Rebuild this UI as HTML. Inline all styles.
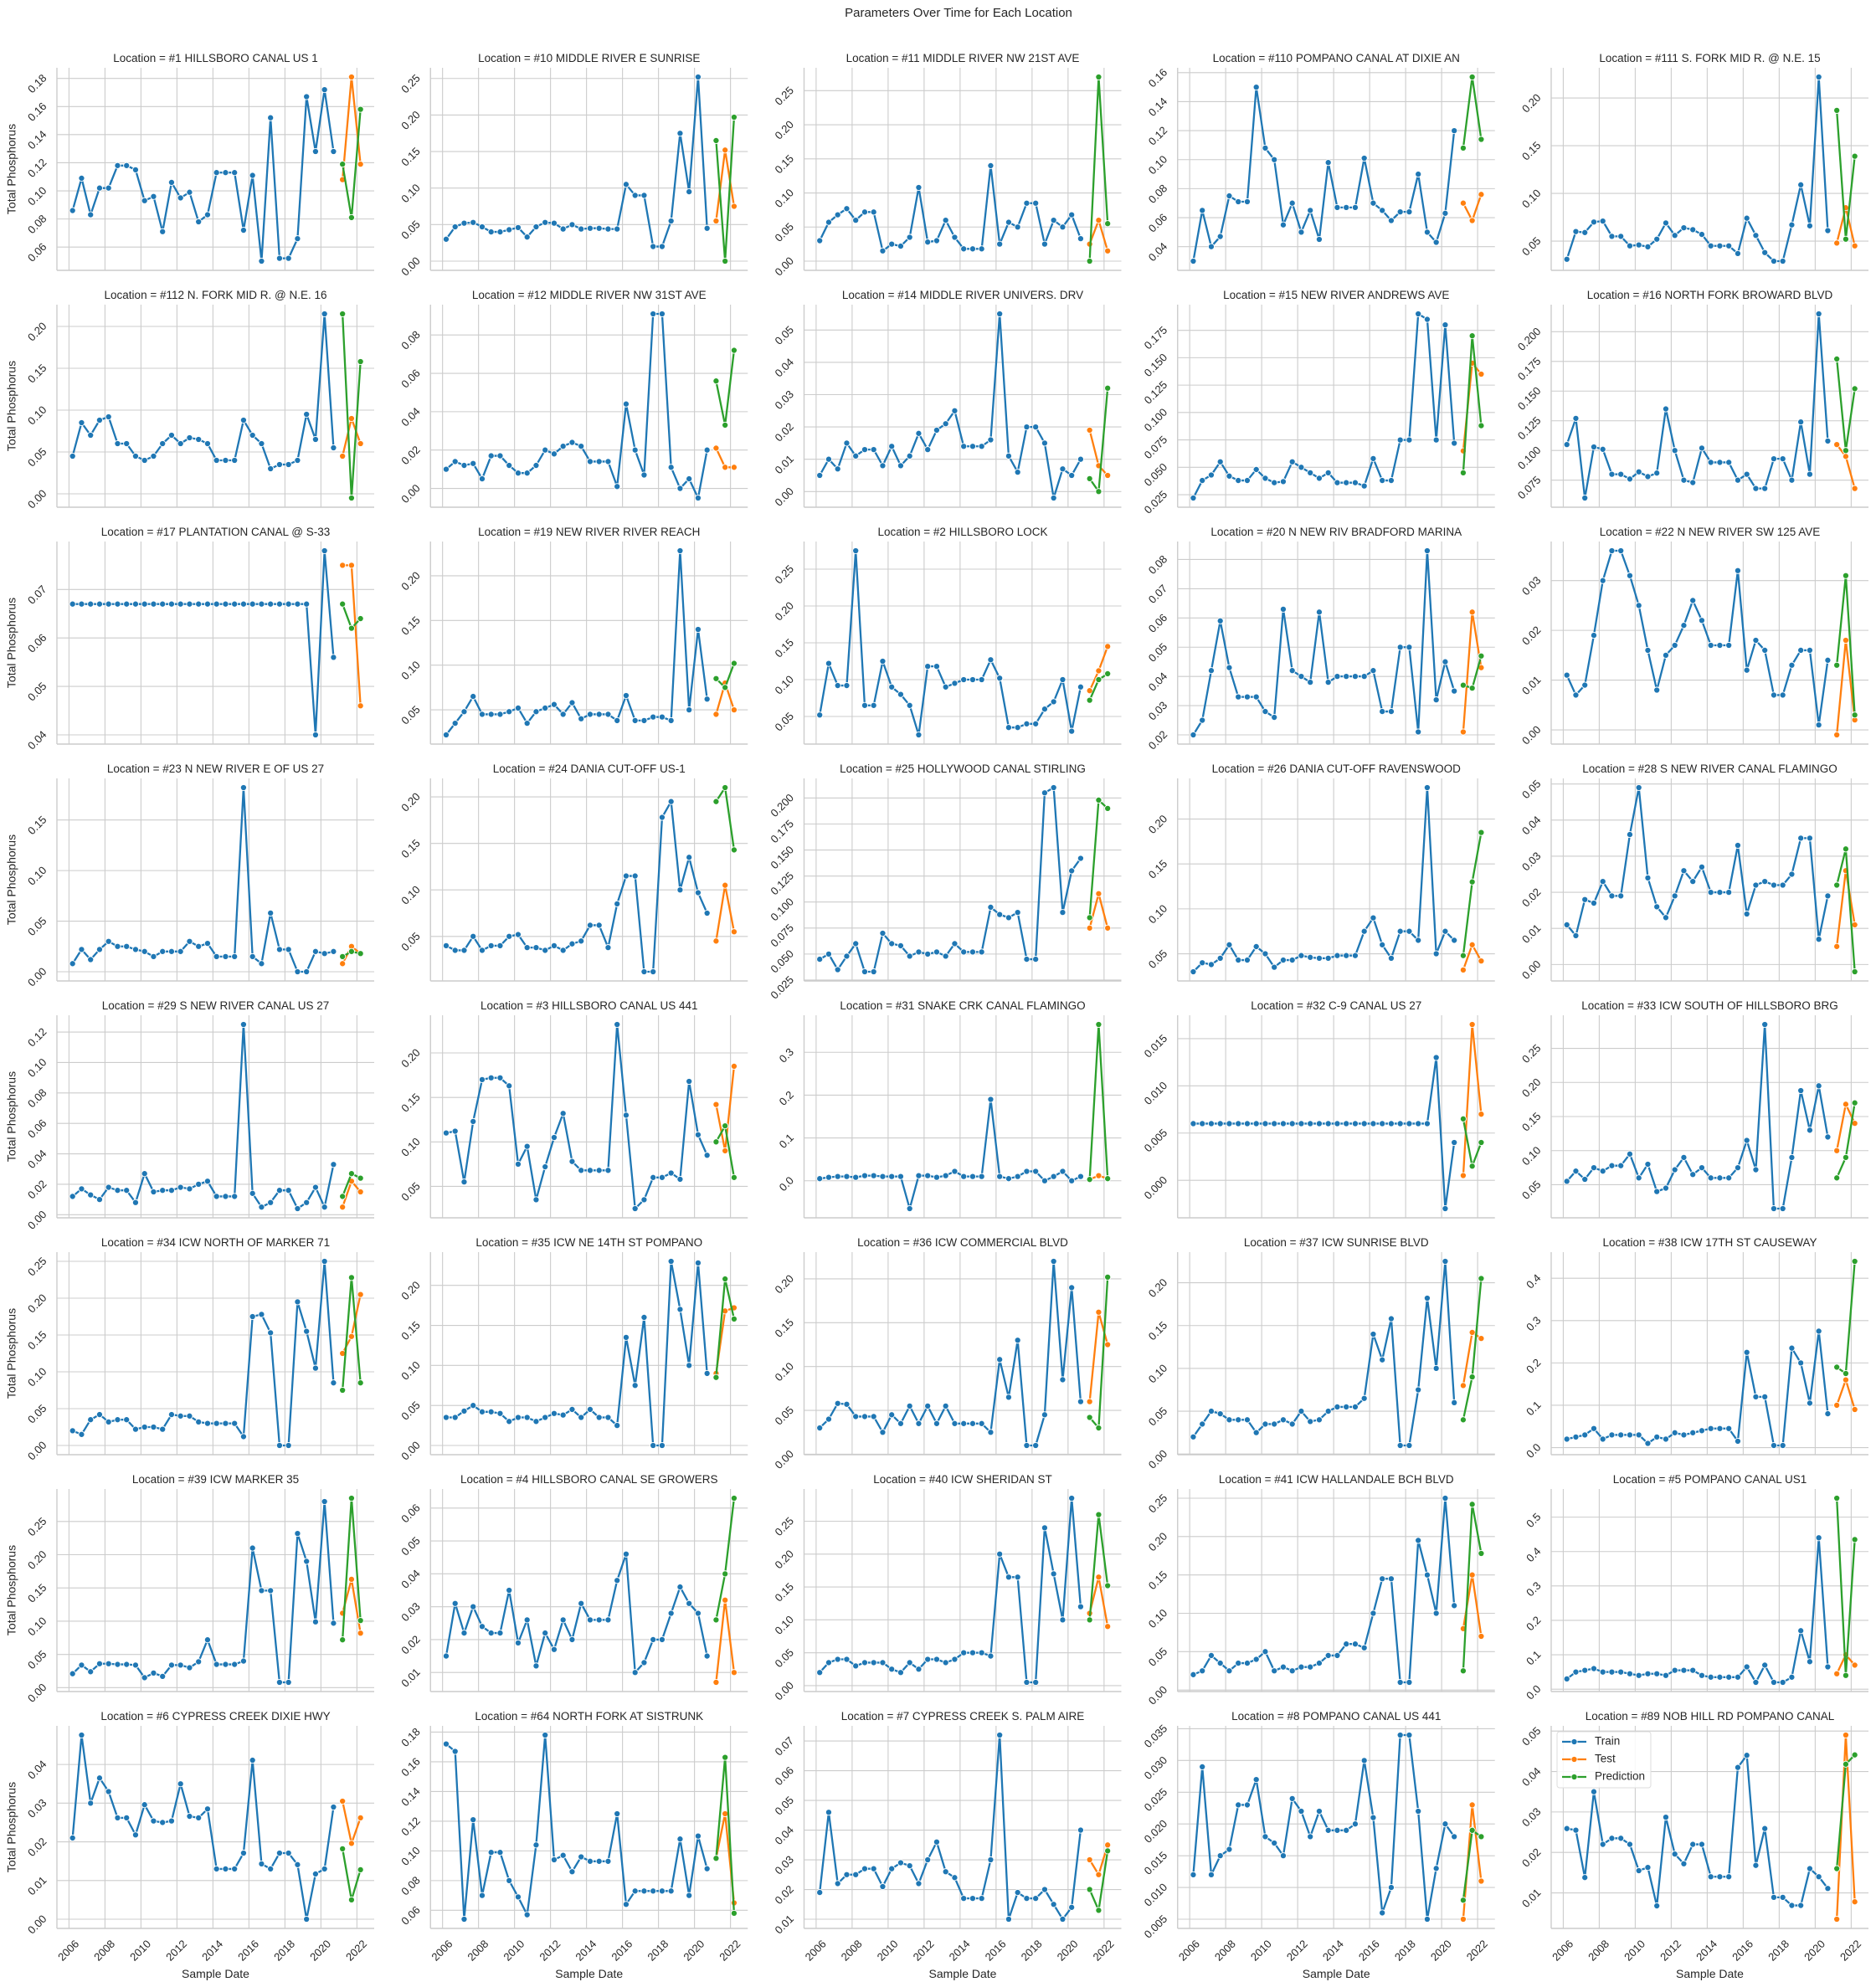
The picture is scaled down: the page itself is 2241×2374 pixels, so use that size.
<!DOCTYPE html>
<html><head><meta charset="utf-8"><title>Parameters Over Time for Each Location</title>
<style>
html,body{margin:0;padding:0;background:#fff;}
svg{display:block;font-family:"Liberation Sans",Arial,sans-serif;}
</style></head>
<body>
<svg id="chart" xmlns="http://www.w3.org/2000/svg" width="2241" height="2374" viewBox="0 0 2241 2374">
<rect x="0" y="0" width="2241" height="2374" fill="#ffffff"/>
<text x="1145" y="20" text-anchor="middle" font-size="15" fill="#262626">Parameters Over Time for Each Location</text>
</svg>
<script>
const locations = ["#1 HILLSBORO CANAL US 1","#10 MIDDLE RIVER E SUNRISE","#11 MIDDLE RIVER NW 21ST AVE","#110 POMPANO CANAL AT DIXIE AN","#111 S. FORK MID R. @ N.E. 15",
"#112 N. FORK MID R. @ N.E. 16","#12 MIDDLE RIVER NW 31ST AVE","#14 MIDDLE RIVER UNIVERS. DRV","#15 NEW RIVER ANDREWS AVE","#16 NORTH FORK BROWARD BLVD",
"#17 PLANTATION CANAL @ S-33","#19 NEW RIVER RIVER REACH","#2 HILLSBORO LOCK","#20 N NEW RIV BRADFORD MARINA","#22 N NEW RIVER SW 125 AVE",
"#23 N NEW RIVER E OF US 27","#24 DANIA CUT-OFF US-1","#25 HOLLYWOOD CANAL STIRLING","#26 DANIA CUT-OFF RAVENSWOOD","#28 S NEW RIVER CANAL FLAMINGO",
"#29 S NEW RIVER CANAL US 27","#3 HILLSBORO CANAL US 441","#31 SNAKE CRK CANAL FLAMINGO","#32 C-9 CANAL US 27","#33 ICW SOUTH OF HILLSBORO BRG",
"#34 ICW NORTH OF MARKER 71","#35 ICW NE 14TH ST POMPANO","#36 ICW COMMERCIAL BLVD","#37 ICW SUNRISE BLVD","#38 ICW 17TH ST CAUSEWAY",
"#39 ICW MARKER 35","#4 HILLSBORO CANAL SE GROWERS","#40 ICW SHERIDAN ST","#41 ICW HALLANDALE BCH BLVD","#5 POMPANO CANAL US1",
"#6 CYPRESS CREEK DIXIE HWY","#64 NORTH FORK AT SISTRUNK","#7 CYPRESS CREEK S. PALM AIRE","#8 POMPANO CANAL US 441","#89 NOB HILL RD POMPANO CANAL"];

const trainDates = [2006.2,2006.7,2007.2,2007.7,2008.2,2008.7,2009.2,2009.7,2010.2,2010.7,2011.2,2011.7,2012.2,2012.7,2013.2,2013.7,2014.2,2014.7,2015.2,2015.7,2016.2,2016.7,2017.2,2017.7,2018.2,2018.7,2019.2,2019.7,2020.2,2020.7];
const testDates = [2021.2,2021.7,2022.2];
const xTicks = [2006,2008,2010,2012,2014,2016,2018,2020,2022];
const seriesNames = ["Train","Test","Prediction"];

const trainSeries = [
[0.086,0.109,0.083,0.102,0.102,0.118,0.118,0.115,0.093,0.096,0.071,0.106,0.095,0.099,0.078,0.083,0.113,0.113,0.113,0.072,0.111,0.050,0.152,0.052,0.052,0.066,0.167,0.128,0.172,0.128],
[0.03,0.047,0.052,0.053,0.047,0.04,0.04,0.043,0.046,0.033,0.047,0.053,0.052,0.044,0.05,0.044,0.045,0.045,0.044,0.044,0.105,0.09,0.09,0.02,0.02,0.055,0.175,0.095,0.252,0.045],
[0.03,0.057,0.068,0.077,0.06,0.072,0.072,0.015,0.025,0.022,0.035,0.108,0.028,0.03,0.06,0.035,0.018,0.018,0.018,0.14,0.025,0.057,0.05,0.085,0.085,0.025,0.06,0.05,0.068,0.033],
[0.03,0.065,0.04,0.047,0.075,0.071,0.071,0.15,0.108,0.1,0.055,0.07,0.05,0.065,0.045,0.098,0.067,0.067,0.067,0.101,0.07,0.065,0.058,0.064,0.064,0.09,0.05,0.043,0.063,0.12],
[0.031,0.060,0.059,0.070,0.071,0.055,0.055,0.045,0.046,0.044,0.052,0.069,0.056,0.064,0.062,0.057,0.045,0.045,0.045,0.037,0.074,0.056,0.038,0.029,0.029,0.067,0.109,0.066,0.222,0.061],
[0.045,0.085,0.07,0.088,0.092,0.06,0.06,0.045,0.04,0.045,0.06,0.07,0.06,0.067,0.065,0.06,0.04,0.04,0.04,0.088,0.07,0.06,0.03,0.035,0.035,0.04,0.095,0.065,0.215,0.055],
[0.01,0.014,0.012,0.013,0.005,0.017,0.017,0.012,0.008,0.008,0.012,0.02,0.018,0.022,0.024,0.022,0.014,0.014,0.014,0.001,0.044,0.02,0.007,0.091,0.091,0.011,0.0,0.005,-0.005,0.02],
[0.005,0.01,0.007,0.015,0.011,0.013,0.013,0.008,0.014,0.008,0.011,0.018,0.013,0.019,0.021,0.025,0.014,0.014,0.014,0.016,0.055,0.011,0.006,0.02,0.02,0.015,-0.002,0.007,0.005,0.01],
[0.022,0.038,0.043,0.055,0.042,0.038,0.038,0.048,0.04,0.036,0.037,0.055,0.05,0.045,0.04,0.045,0.036,0.036,0.036,0.033,0.058,0.038,0.038,0.075,0.075,0.19,0.185,0.075,0.18,0.072],
[0.105,0.127,0.06,0.103,0.101,0.08,0.08,0.076,0.082,0.078,0.081,0.135,0.1,0.075,0.073,0.102,0.09,0.09,0.09,0.075,0.08,0.068,0.068,0.093,0.093,0.075,0.124,0.08,0.215,0.108],
[0.067,0.067,0.067,0.067,0.067,0.067,0.067,0.067,0.067,0.067,0.067,0.067,0.067,0.067,0.067,0.067,0.067,0.067,0.067,0.067,0.067,0.067,0.067,0.067,0.067,0.067,0.067,0.04,0.078,0.056],
[0.022,0.035,0.048,0.065,0.045,0.045,0.045,0.048,0.052,0.035,0.048,0.052,0.056,0.045,0.058,0.04,0.045,0.045,0.045,0.038,0.066,0.038,0.038,0.042,0.042,0.038,0.228,0.05,0.14,0.062],
[0.052,0.122,0.092,0.092,0.275,0.065,0.065,0.125,0.09,0.08,0.065,0.025,0.118,0.118,0.09,0.095,0.1,0.1,0.1,0.127,0.102,0.035,0.035,0.04,0.04,0.06,0.07,0.1,0.03,0.09],
[0.02,0.025,0.042,0.059,0.043,0.033,0.033,0.033,0.028,0.026,0.063,0.042,0.04,0.038,0.062,0.038,0.04,0.04,0.04,0.04,0.042,0.028,0.028,0.05,0.05,0.021,0.083,0.032,0.045,0.035],
[0.011,0.007,0.009,0.019,0.03,0.036,0.036,0.031,0.025,0.016,0.008,0.015,0.017,0.021,0.026,0.022,0.017,0.017,0.017,0.032,0.012,0.018,0.016,0.007,0.007,0.013,0.016,0.016,0.001,0.014],
[0.008,0.022,0.012,0.022,0.03,0.025,0.025,0.022,0.02,0.015,0.02,0.02,0.02,0.03,0.025,0.028,0.015,0.015,0.015,0.182,0.015,0.008,0.058,0.022,0.022,0.0,0.0,0.02,0.018,0.02],
[0.04,0.035,0.035,0.05,0.035,0.04,0.04,0.05,0.052,0.038,0.038,0.035,0.04,0.035,0.042,0.045,0.062,0.062,0.038,0.085,0.115,0.115,0.012,0.012,0.178,0.195,0.1,0.135,0.097,0.075],
[0.045,0.05,0.035,0.048,0.06,0.033,0.033,0.07,0.06,0.058,0.048,0.052,0.05,0.052,0.048,0.06,0.052,0.052,0.052,0.095,0.088,0.085,0.09,0.045,0.045,0.205,0.21,0.09,0.13,0.142],
[0.03,0.04,0.038,0.045,0.06,0.043,0.043,0.058,0.05,0.035,0.043,0.043,0.048,0.046,0.045,0.045,0.048,0.048,0.048,0.075,0.09,0.06,0.045,0.075,0.075,0.065,0.235,0.05,0.075,0.065],
[0.011,0.008,0.018,0.017,0.023,0.019,0.019,0.036,0.049,0.024,0.016,0.013,0.019,0.026,0.023,0.027,0.02,0.02,0.02,0.033,0.014,0.022,0.023,0.022,0.022,0.025,0.035,0.035,0.007,0.019],
[0.012,0.017,0.013,0.01,0.018,0.016,0.016,0.008,0.027,0.015,0.016,0.016,0.018,0.017,0.02,0.022,0.012,0.012,0.012,0.125,0.014,0.005,0.008,0.016,0.016,0.004,0.008,0.018,0.005,0.033],
[0.11,0.112,0.055,0.123,0.17,0.172,0.172,0.163,0.075,0.095,0.035,0.072,0.105,0.132,0.078,0.068,0.068,0.068,0.068,0.232,0.13,0.025,0.035,0.06,0.06,0.065,0.058,0.168,0.108,0.085],
[0.005,0.008,0.01,0.01,0.008,0.012,0.012,0.01,0.01,0.01,-0.065,0.012,0.012,0.008,0.012,0.022,0.01,0.01,0.01,0.19,0.01,0.005,0.01,0.022,0.022,0.0,0.01,0.022,0.0,0.01],
[0.006,0.006,0.006,0.006,0.006,0.006,0.006,0.006,0.006,0.006,0.006,0.006,0.006,0.006,0.006,0.006,0.006,0.006,0.006,0.006,0.006,0.006,0.006,0.006,0.006,0.006,0.006,0.013,-0.003,0.004],
[0.055,0.07,0.058,0.075,0.07,0.078,0.078,0.095,0.06,0.08,0.04,0.045,0.072,0.09,0.065,0.075,0.06,0.06,0.06,0.075,0.115,0.072,0.285,0.015,0.015,0.09,0.188,0.13,0.195,0.12],
[0.02,0.015,0.035,0.042,0.032,0.035,0.035,0.022,0.025,0.025,0.022,0.042,0.04,0.04,0.032,0.03,0.03,0.03,0.03,0.012,0.175,0.178,0.153,0.0,0.0,0.195,0.155,0.105,0.25,0.085],
[0.035,0.035,0.043,0.05,0.042,0.042,0.04,0.03,0.035,0.035,0.03,0.035,0.04,0.038,0.045,0.035,0.045,0.035,0.035,0.025,0.135,0.075,0.16,0.0,0.0,0.23,0.17,0.1,0.228,0.09],
[0.03,0.04,0.058,0.057,0.043,0.043,0.043,0.025,0.045,0.035,0.055,0.035,0.055,0.035,0.055,0.035,0.035,0.035,0.035,0.025,0.108,0.065,0.13,0.01,0.01,0.045,0.22,0.085,0.19,0.06],
[0.02,0.035,0.05,0.047,0.04,0.04,0.04,0.025,0.035,0.035,0.04,0.035,0.05,0.038,0.04,0.05,0.055,0.055,0.055,0.065,0.14,0.11,0.158,0.01,0.01,0.075,0.182,0.1,0.225,0.06],
[0.02,0.025,0.03,0.045,0.02,0.03,0.03,0.03,0.03,0.01,0.025,0.02,0.035,0.03,0.035,0.04,0.045,0.045,0.045,0.015,0.225,0.12,0.12,0.005,0.005,0.235,0.2,0.105,0.275,0.08],
[0.021,0.034,0.024,0.036,0.036,0.035,0.035,0.034,0.015,0.022,0.017,0.034,0.034,0.030,0.039,0.072,0.035,0.035,0.035,0.040,0.21,0.146,0.146,0.008,0.008,0.232,0.19,0.099,0.28,0.097],
[0.015,0.031,0.022,0.03,0.024,0.022,0.022,0.035,0.019,0.026,0.012,0.022,0.017,0.026,0.02,0.031,0.026,0.026,0.026,0.038,0.046,0.01,0.013,0.02,0.02,0.028,0.036,0.031,0.028,0.015],
[0.02,0.035,0.04,0.04,0.03,0.035,0.035,0.035,0.025,0.02,0.035,0.025,0.04,0.04,0.035,0.04,0.05,0.05,0.05,0.045,0.2,0.165,0.165,0.005,0.005,0.24,0.17,0.1,0.285,0.12],
[0.02,0.025,0.045,0.035,0.025,0.035,0.035,0.04,0.05,0.025,0.03,0.025,0.03,0.03,0.035,0.045,0.045,0.06,0.06,0.055,0.1,0.145,0.145,0.01,0.01,0.195,0.15,0.1,0.25,0.11],
[0.03,0.05,0.055,0.06,0.05,0.05,0.05,0.045,0.04,0.045,0.045,0.04,0.055,0.055,0.055,0.04,0.035,0.035,0.035,0.035,0.065,0.02,0.07,0.02,0.02,0.035,0.17,0.08,0.44,0.065],
[0.0210,0.0476,0.0300,0.0365,0.0330,0.0262,0.0262,0.0218,0.0296,0.0254,0.0250,0.0254,0.0350,0.0266,0.0262,0.0285,0.0130,0.0130,0.0130,0.0171,0.0411,0.0143,0.0130,0.0171,0.0171,0.0141,0.0000,0.0117,0.0130,0.0290],
[0.172,0.167,0.054,0.121,0.07,0.099,0.099,0.08,0.069,0.057,0.104,0.178,0.094,0.097,0.086,0.096,0.093,0.093,0.093,0.125,0.064,0.073,0.073,0.073,0.073,0.073,0.108,0.07,0.11,0.088],
[0.019,0.046,0.022,0.025,0.025,0.027,0.027,0.021,0.027,0.029,0.028,0.022,0.03,0.036,0.026,0.024,0.017,0.017,0.017,0.03,0.072,0.01,0.019,0.017,0.017,0.02,0.015,0.01,0.014,0.04],
[0.012,0.029,0.012,0.015,0.016,0.023,0.023,0.027,0.018,0.017,0.015,0.024,0.022,0.018,0.022,0.019,0.019,0.019,0.02,0.03,0.021,0.006,0.01,0.034,0.034,0.022,0.005,0.013,0.02,0.018],
[0.0259,0.0255,0.0138,0.035,0.022,0.0235,0.0235,0.022,0.0155,0.0163,0.0068,0.0287,0.0196,0.0172,0.022,0.022,0.014,0.014,0.014,0.041,0.044,0.0168,0.0259,0.0089,0.0089,0.0069,0.0069,0.016,0.014,0.0111]
];

const testSeries = [
[0.108,0.181,0.119],[0.055,0.152,0.075],[0.025,0.06,0.015],[0.07,0.058,0.076],[0.048,0.085,0.045],
[0.045,0.09,0.06],[0.021,0.011,0.011],[0.019,0.008,0.005],[0.065,0.145,0.135],[0.105,0.095,0.068],
[0.075,0.075,0.046],[0.045,0.08,0.05],[0.085,0.112,0.145],[0.021,0.062,0.043],[-0.001,0.018,0.002],
[0.008,0.025,0.018],[0.045,0.105,0.055],[0.075,0.108,0.075],[0.032,0.06,0.042],[0.005,0.026,0.011],
[0.005,0.022,0.015],[0.142,0.09,0.185],[0.003,0.012,0.005],[0.0005,0.0165,0.007],[0.1,0.168,0.14],
[0.125,0.148,0.205],[0.09,0.168,0.172],[0.06,0.162,0.125],[0.08,0.142,0.135],[0.1,0.16,0.09],
[0.112,0.163,0.082],[0.007,0.032,0.01],[0.11,0.165,0.09],[0.08,0.15,0.07],[0.045,0.1,0.07],
[0.0305,0.0196,0.0262],[0.095,0.125,0.065],[0.03,0.025,0.035],[0.005,0.023,0.011],[0.0035,0.049,0.0078]
];

const predSeries = [
[0.119,0.081,0.158],[0.165,0.0,0.197],[0.0,0.27,0.055],[0.108,0.157,0.114],[0.187,0.052,0.139],
[0.215,-0.005,0.158],[0.056,0.033,0.072],[0.004,0.0,0.032],[0.045,0.17,0.088],[0.177,0.1,0.152],
[0.067,0.062,0.064],[0.085,0.075,0.102],[0.072,0.1,0.108],[0.037,0.036,0.047],[0.013,0.031,0.003],
[0.015,0.02,0.018],[0.195,0.21,0.143],[0.085,0.198,0.19],[0.048,0.13,0.185],[0.022,0.032,-0.002],
[0.012,0.027,0.024],[0.1,0.118,0.06],[0.003,0.365,0.005],[0.0065,0.0015,0.004],[0.06,0.09,0.17],
[0.075,0.228,0.085],[0.085,0.208,0.158],[0.042,0.03,0.202],[0.04,0.09,0.205],[0.19,0.175,0.44],
[0.072,0.285,0.101],[0.026,0.04,0.063],[0.1,0.26,0.152],[0.025,0.242,0.178],[0.555,0.04,0.435],
[0.0182,0.005,0.0128],[0.095,0.163,0.058],[0.02,0.013,0.033],[0.008,0.019,0.018],[0.016,0.0418,0.0441]
];

const NS = "http://www.w3.org/2000/svg";
const svg = document.getElementById("chart");
const COLORS = ["#1f77b4","#ff7f0e","#2ca02c"];
const NCOL = 5, AX_W = 379, AX_H = 242, LEFT0 = 68, TOP0 = 81, PITCH_X = 446.25, PITCH_Y = 283;
const X_MIN = 2005.33, X_MAX = 2022.96;
const TXT = "#262626", GRID = "#cccccc";

function mk(tag, parent) { const e = document.createElementNS(NS, tag); parent.appendChild(e); return e; }
function niceTicks(lo, hi) {
  const steps = [1, 2, 2.5, 5, 10];
  const raw = (hi - lo) / 8;
  let mag = Math.pow(10, Math.floor(Math.log10(raw)));
  for (const s of steps) {
    const st = s * mag;
    if (st >= raw - 1e-12) return { step: st, a: Math.floor(lo / st + 1e-9), b: Math.ceil(hi / st - 1e-9) };
  }
  return { step: 10 * mag, a: Math.floor(lo / (10 * mag)), b: Math.ceil(hi / (10 * mag)) };
}
function decimalsFor(step) { let d = 0; while (d < 8 && Math.abs(Math.round(step * Math.pow(10, d)) - step * Math.pow(10, d)) > 1e-6) d++; return d; }

for (let i = 0; i < locations.length; i++) {
  const r = Math.floor(i / NCOL), c = i % NCOL;
  const L = LEFT0 + c * PITCH_X, T = TOP0 + r * PITCH_Y;
  const g = mk("g", svg);
  
  

  const all = trainSeries[i].concat(testSeries[i], predSeries[i]);
  const dmin = Math.min.apply(null, all), dmax = Math.max.apply(null, all);
  const pad = (dmax - dmin) * 0.05;
  const yLo = dmin - pad, yHi = dmax + pad;
  const xs = v => L + (v - X_MIN) / (X_MAX - X_MIN) * AX_W;
  const ys = v => T + AX_H - (v - yLo) / (yHi - yLo) * AX_H;

  for (const xt of xTicks) {
    const ln = mk("line", g);
    
    
    ln.setAttribute("x1", xs(xt)); ln.setAttribute("x2", xs(xt));
    ln.setAttribute("y1", T); ln.setAttribute("y2", T + AX_H);
    ln.setAttribute("stroke", GRID); ln.setAttribute("stroke-width", "1.1");
    if (r === 7) {
      const tl = mk("text", g);
      
      
      tl.setAttribute("x", xs(xt)); tl.setAttribute("y", T + AX_H + 27);
      tl.setAttribute("text-anchor", "middle"); tl.setAttribute("dominant-baseline", "middle");
      tl.setAttribute("font-size", "13"); tl.setAttribute("fill", TXT);
      tl.setAttribute("transform", "rotate(-45 " + xs(xt) + " " + (T + AX_H + 27) + ")");
      tl.textContent = String(xt);
    }
  }
  const tk = niceTicks(yLo, yHi);
  const dec = decimalsFor(tk.step);
  for (let k = tk.a; k <= tk.b; k++) {
    const v = k * tk.step;
    if (v < yLo - 1e-12 || v > yHi + 1e-12) continue;
    const y = ys(v);
    const ln = mk("line", g);
    
    
    ln.setAttribute("x1", L); ln.setAttribute("x2", L + AX_W);
    ln.setAttribute("y1", y); ln.setAttribute("y2", y);
    ln.setAttribute("stroke", GRID); ln.setAttribute("stroke-width", "1.1");
    const tl = mk("text", g);
    
    
    const ax = L - 14, ay = y - 2;
    tl.setAttribute("x", ax); tl.setAttribute("y", ay);
    tl.setAttribute("text-anchor", "end"); tl.setAttribute("dominant-baseline", "middle");
    tl.setAttribute("font-size", "13"); tl.setAttribute("fill", TXT);
    tl.setAttribute("transform", "rotate(-45 " + ax + " " + ay + ")");
    let s = Math.abs(v) < 1e-12 ? (0).toFixed(dec) : v.toFixed(dec);
    tl.textContent = s.replace("-", "\u2212");
  }
  const sp1 = mk("line", g);
  
  
  sp1.setAttribute("x1", L); sp1.setAttribute("x2", L); sp1.setAttribute("y1", T); sp1.setAttribute("y2", T + AX_H);
  sp1.setAttribute("stroke", GRID); sp1.setAttribute("stroke-width", "1.4");
  const sp2 = mk("line", g);
  
  
  sp2.setAttribute("x1", L); sp2.setAttribute("x2", L + AX_W); sp2.setAttribute("y1", T + AX_H); sp2.setAttribute("y2", T + AX_H);
  sp2.setAttribute("stroke", GRID); sp2.setAttribute("stroke-width", "1.4");

  const tt = mk("text", g);
  
  
  tt.setAttribute("x", L + AX_W / 2); tt.setAttribute("y", T - 7);
  tt.setAttribute("text-anchor", "middle"); tt.setAttribute("font-size", "13.5"); tt.setAttribute("fill", TXT);
  tt.textContent = "Location = " + locations[i];

  if (c === 0) {
    const yl = mk("text", g);
    
    
    yl.setAttribute("x", 15); yl.setAttribute("y", T + AX_H / 2);
    yl.setAttribute("text-anchor", "middle"); yl.setAttribute("dominant-baseline", "middle");
    yl.setAttribute("font-size", "14"); yl.setAttribute("fill", TXT);
    yl.setAttribute("transform", "rotate(-90 15 " + (T + AX_H / 2) + ")");
    yl.textContent = "Total Phosphorus";
  }
  if (r === 7) {
    const xl = mk("text", g);
    
    
    xl.setAttribute("x", L + AX_W / 2); xl.setAttribute("y", T + AX_H + 59);
    xl.setAttribute("text-anchor", "middle"); xl.setAttribute("font-size", "14"); xl.setAttribute("fill", TXT);
    xl.textContent = "Sample Date";
  }

  const sets = [[trainDates, trainSeries[i]], [testDates, testSeries[i]], [testDates, predSeries[i]]];
  for (let s = 0; s < 3; s++) {
    const xsArr = sets[s][0], vals = sets[s][1];
    const pl = mk("polyline", g);
    
    
    pl.setAttribute("points", vals.map((v, j) => xs(xsArr[j]).toFixed(2) + "," + ys(v).toFixed(2)).join(" "));
    pl.setAttribute("fill", "none"); pl.setAttribute("stroke", COLORS[s]);
    pl.setAttribute("stroke-width", "2.3"); pl.setAttribute("stroke-linejoin", "round");
    for (let j = 0; j < vals.length; j++) {
      const cc = mk("circle", g);
      
      
      cc.setAttribute("cx", xs(xsArr[j])); cc.setAttribute("cy", ys(vals[j]));
      cc.setAttribute("r", "3.6"); cc.setAttribute("fill", COLORS[s]);
      cc.setAttribute("stroke", "#ffffff"); cc.setAttribute("stroke-width", "0.9");
    }
  }

  if (i === locations.length - 1) {
    const lg = mk("g", g);
    
    
    const bx = mk("rect", lg);
    
    
    bx.setAttribute("x", L + 7); bx.setAttribute("y", T + 7); bx.setAttribute("width", 112); bx.setAttribute("height", 67);
    bx.setAttribute("rx", 3); bx.setAttribute("fill", "#ffffff"); bx.setAttribute("fill-opacity", "0.85");
    bx.setAttribute("stroke", "#dddddd"); bx.setAttribute("stroke-width", "1");
    for (let s = 0; s < 3; s++) {
      const ey = T + 19 + s * 21;
      const ent = mk("g", lg);
      
      
      const ln = mk("line", ent);
      
      
      ln.setAttribute("x1", L + 13); ln.setAttribute("x2", L + 42); ln.setAttribute("y1", ey); ln.setAttribute("y2", ey);
      ln.setAttribute("stroke", COLORS[s]); ln.setAttribute("stroke-width", "2.3");
      const cc = mk("circle", ent);
      
      
      cc.setAttribute("cx", L + 27.5); cc.setAttribute("cy", ey); cc.setAttribute("r", "3.6");
      cc.setAttribute("fill", COLORS[s]); cc.setAttribute("stroke", "#fff"); cc.setAttribute("stroke-width", "0.9");
      const tx = mk("text", ent);
      
      
      tx.setAttribute("x", L + 52); tx.setAttribute("y", ey); tx.setAttribute("dominant-baseline", "middle");
      tx.setAttribute("font-size", "13.5"); tx.setAttribute("fill", TXT);
      tx.textContent = seriesNames[s];
    }
  }
}
</script>
</body></html>
